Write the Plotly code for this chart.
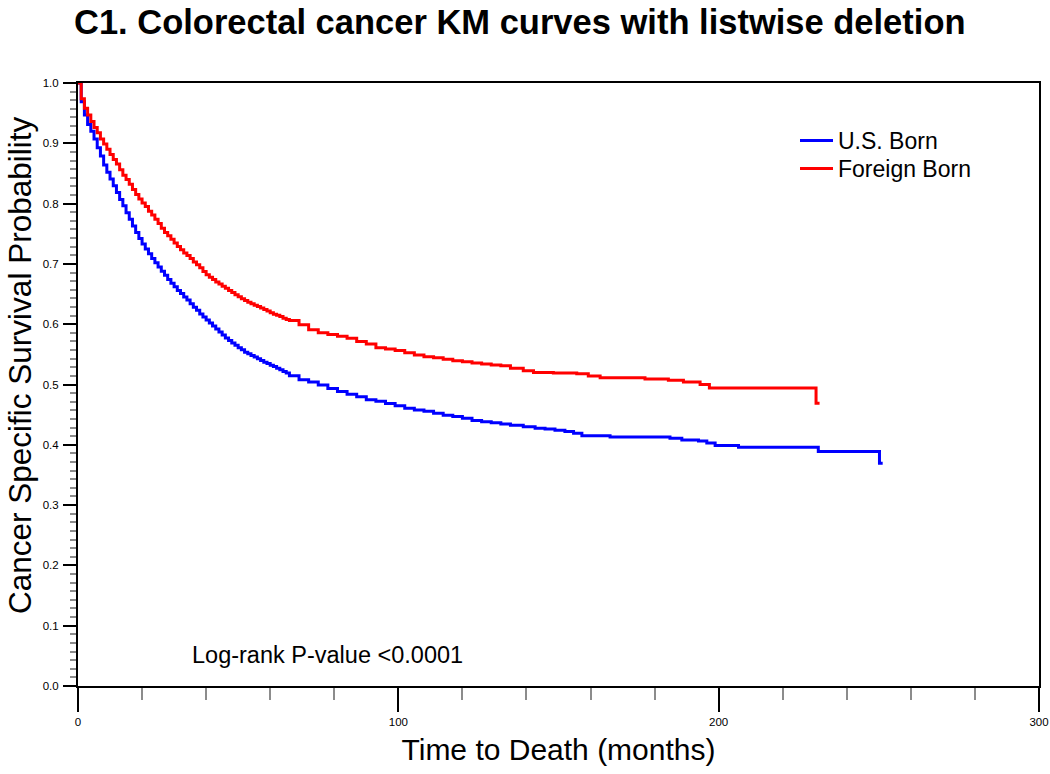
import plotly.graph_objects as go

# ---- data (months, survival probability) ----
us_time = [0, 1, 2, 3, 4, 5, 6, 7, 8, 9, 10, 11, 12, 13, 14, 15, 16, 17, 18, 19, 20,
           21, 22, 23, 24, 25, 26, 27, 28, 29, 30, 31, 32, 33, 34, 35, 36, 37, 38, 39, 40,
           41, 42, 43, 44, 45, 46, 47, 48, 49, 50, 51, 52, 53, 54, 55, 56, 57, 58, 59, 60,
           61, 62, 63, 64, 65, 66, 69, 72, 75, 78, 81, 84, 87, 90, 93, 96, 99, 102, 105,
           108, 111, 114, 117, 120, 123, 126, 129, 132, 135, 139, 142.7, 145.8, 148.9,
           152, 154.7, 157.3, 166.1, 184.8, 188.5, 193.7, 196.3, 198.9, 206.2, 231.1,
           250.2, 251.2]
us_surv = [1.0, 0.969, 0.947, 0.931, 0.920, 0.907, 0.8926, 0.879, 0.864, 0.852, 0.8407,
           0.8296, 0.8185, 0.807, 0.7964, 0.785, 0.774, 0.763, 0.752, 0.742, 0.733,
           0.7246, 0.717, 0.709, 0.702, 0.695, 0.688, 0.681, 0.674, 0.668, 0.662,
           0.656, 0.651, 0.645, 0.640, 0.634, 0.628, 0.623, 0.617, 0.612, 0.607,
           0.602, 0.597, 0.592, 0.587, 0.582, 0.577, 0.573, 0.569, 0.565, 0.561,
           0.5575, 0.5536, 0.551, 0.548, 0.5454, 0.5425, 0.5398, 0.537, 0.5348, 0.532,
           0.530, 0.527, 0.5243, 0.5215, 0.519, 0.5146, 0.508, 0.504, 0.499, 0.4933,
           0.4883, 0.484, 0.4795, 0.4747, 0.4723, 0.4684, 0.4646, 0.4607, 0.4578,
           0.4557, 0.4524, 0.4488, 0.4469, 0.4441, 0.4402, 0.4383, 0.4364, 0.4347,
           0.4325, 0.430, 0.4275, 0.426, 0.424, 0.422, 0.419, 0.415, 0.413, 0.411,
           0.408, 0.4065, 0.403, 0.399, 0.396, 0.389, 0.3695, 0.3695]

fb_time = [0, 1, 2, 3, 4, 5, 6, 7, 8, 9, 10, 11, 12, 13, 14, 15, 16, 17, 18, 19, 20,
           21, 22, 23, 24, 25, 26, 27, 28, 29, 30, 31, 32, 33, 34, 35, 36, 37, 38, 39, 40,
           41, 42, 43, 44, 45, 46, 47, 48, 49, 50, 51, 52, 53, 54, 55, 56, 57, 58, 59, 60,
           61, 62, 63, 64, 65, 66, 69, 72, 75, 78, 81, 84, 87, 90, 93, 96, 99, 102, 105,
           108, 111, 114, 117, 120, 123, 126, 129, 132, 135, 139, 142.2, 148.4, 155.7,
           159.3, 163, 177, 184.3, 189, 194.2, 197.1, 230.4, 231.5]
fb_surv = [1.0, 0.974, 0.958, 0.947, 0.936, 0.926, 0.9175, 0.907, 0.899, 0.890, 0.8815,
           0.873, 0.8655, 0.856, 0.847, 0.840, 0.832, 0.8235, 0.815, 0.8075, 0.801,
           0.795, 0.7875, 0.781, 0.774, 0.767, 0.759, 0.752, 0.7466, 0.741, 0.7345,
           0.729, 0.7234, 0.718, 0.714, 0.709, 0.703, 0.6985, 0.6935, 0.6875, 0.682,
           0.678, 0.674, 0.670, 0.6665, 0.663, 0.6595, 0.656, 0.6526, 0.6488, 0.6454,
           0.642, 0.6393, 0.6366, 0.6338, 0.6316, 0.6294, 0.627, 0.6244, 0.6217, 0.619,
           0.6167, 0.615, 0.6128, 0.610, 0.608, 0.606, 0.599, 0.591, 0.586, 0.583,
           0.580, 0.5766, 0.5713, 0.567, 0.561, 0.559, 0.5564, 0.5528, 0.5488, 0.546,
           0.5442, 0.5418, 0.5394, 0.5377, 0.5357, 0.534, 0.5324, 0.531, 0.527, 0.523,
           0.520, 0.519, 0.518, 0.514, 0.511, 0.509, 0.507, 0.504, 0.500, 0.494, 0.469,
           0.469]

series_names = ["U.S. Born", "Foreign Born"]
series_colors = ["#0000FF", "#FF0000"]
x_ticks = [0, 100, 200, 300]
y_ticks = [0.0, 0.1, 0.2, 0.3, 0.4, 0.5, 0.6, 0.7, 0.8, 0.9, 1.0]
y_ticklabels = ["0.0", "0.1", "0.2", "0.3", "0.4", "0.5", "0.6", "0.7", "0.8", "0.9", "1.0"]

FONT = "Liberation Sans, Arial, sans-serif"
W, H = 1050, 774
L, R, T, B = 78, 11, 83, 88
PW, PH = W - L - R, H - T - B

fig = go.Figure()
fig.add_trace(go.Scatter(x=us_time, y=us_surv, mode="lines", name=series_names[0],
                         line=dict(color=series_colors[0], width=3, shape="hv"),
                         legend="legend"))
fig.add_trace(go.Scatter(x=fb_time, y=fb_surv, mode="lines", name=series_names[1],
                         line=dict(color=series_colors[1], width=3, shape="hv"),
                         legend="legend2"))

leg_common = dict(xanchor="left", yanchor="top", bgcolor="rgba(0,0,0,0)",
                  font=dict(family=FONT, size=23, color="black"), itemwidth=33)

fig.update_layout(
    width=W, height=H,
    paper_bgcolor="white", plot_bgcolor="white",
    margin=dict(l=L, r=R, t=T, b=B, autoexpand=False),
    font=dict(family=FONT, color="black"),
    title=dict(text="<b>C1. Colorectal cancer KM curves with listwise deletion</b>",
               x=74 / W, xanchor="left", xref="container",
               y=1 - 22 / H, yanchor="middle", yref="container",
               font=dict(family=FONT, size=34.5, color="black")),
    showlegend=True,
    legend=dict(x=(795 - L) / PW, y=(686 - 119) / PH, **leg_common),
    legend2=dict(x=(795 - L) / PW, y=(686 - 147) / PH, **leg_common),
)

fig.update_xaxes(
    range=[0, 300], tickmode="array", tickvals=x_ticks,
    ticktext=[str(v) for v in x_ticks], automargin=False,
    showgrid=False, zeroline=False,
    showline=True, linecolor="black", linewidth=2, mirror=True,
    ticks="outside", ticklen=24, tickwidth=2, tickcolor="black",
    tickfont=dict(family=FONT, size=11.5, color="black"),
    minor=dict(dtick=20, tick0=0, ticks="outside", ticklen=12, tickwidth=1.5,
               tickcolor="#8c8c8c", showgrid=False),
    title=dict(text="Time to Death (months)", standoff=12,
               font=dict(family=FONT, size=30, color="black")),
)
fig.update_yaxes(
    range=[0, 1], tickmode="array", tickvals=y_ticks, ticktext=y_ticklabels,
    automargin=False, showgrid=False, zeroline=False,
    showline=True, linecolor="black", linewidth=2, mirror=True,
    ticks="outside", ticklen=13, tickwidth=2, tickcolor="black",
    ticklabelstandoff=2,
    tickfont=dict(family=FONT, size=11.5, color="black"),
    minor=dict(dtick=0.1 / 7, tick0=0, ticks="outside", ticklen=6, tickwidth=1.5,
               tickcolor="#8c8c8c", showgrid=False),
)

# y-axis title
fig.add_annotation(x=(20 - L) / PW, y=(686 - 366) / PH, xref="paper", yref="paper",
                   text="Cancer Specific Survival Probability", showarrow=False,
                   textangle=-90, xanchor="center", yanchor="middle",
                   font=dict(family=FONT, size=31.5, color="black"))

fig.add_annotation(x=35.0, y=0.0514, xref="x", yref="y",
                   text="Log-rank P-value <0.0001", showarrow=False,
                   xanchor="left", yanchor="middle",
                   font=dict(family=FONT, size=23.5, color="black"))

fig.write_html("out.html", config={"displayModeBar": False},
               post_script="document.body.style.margin='0';")
